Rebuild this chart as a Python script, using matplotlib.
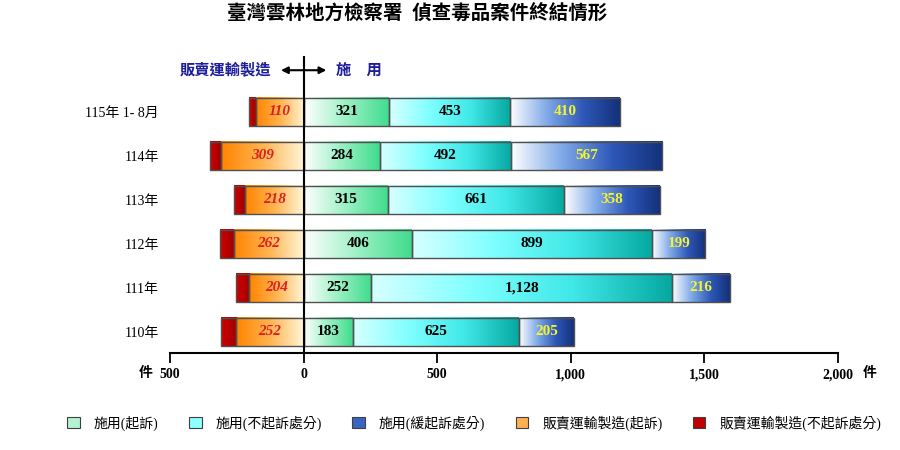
import matplotlib
matplotlib.use('Agg')
import matplotlib.pyplot as plt
import numpy as np
from matplotlib.colors import LinearSegmentedColormap
from matplotlib.patches import Patch

plt.rcParams['font.family'] = ['Liberation Serif', 'Noto Sans CJK TC', 'DejaVu Sans']

# data, top row first
years = ['115年 1- 8月', '114年', '113年', '112年', '111年', '110年']
use_prosecuted = [321, 284, 315, 406, 252, 183]
use_not_prosecuted = [453, 492, 661, 899, 1128, 625]
use_deferred = [410, 567, 358, 199, 216, 205]
# bar length of 115 as drawn (~180) differs from its printed label (110)
sell_prosecuted = [180, 309, 218, 262, 204, 252]
sell_labels = ['110', '309', '218', '262', '204', '252']
sell_not_prosecuted = [24, 40, 41, 50, 50, 59]

legend_names = ['施用(起訴)', '施用(不起訴處分)', '施用(緩起訴處分)',
                '販賣運輸製造(起訴)', '販賣運輸製造(不起訴處分)']

cmaps = [
    LinearSegmentedColormap.from_list('g', ['#ffffff', '#9af0c4', '#3fdc8c']),
    LinearSegmentedColormap.from_list('c', ['#d8ffff', '#80ffff', '#40e8e8', '#05a8a0']),
    LinearSegmentedColormap.from_list('b', ['#ffffff', '#80aae8', '#2e58b8', '#14307a']),
    LinearSegmentedColormap.from_list('o', ['#ff8400', '#ffb450', '#fff6d8']),
    LinearSegmentedColormap.from_list('r', ['#d00000', '#a00000']),
]
legend_colors = ['#b4f2d2', '#90ffff', '#3a64c0', '#ffb050', '#c00000']

grad = np.linspace(0, 1, 256).reshape(1, -1)


def gradient_bars(ax, bars, cmap):
    for p in bars.patches:
        x0, y0 = p.get_x(), p.get_y()
        w, h = p.get_width(), p.get_height()
        l, r = min(x0, x0 + w), max(x0, x0 + w)
        ax.imshow(grad, cmap=cmap, extent=(l, r, y0, y0 + h),
                  aspect='auto', zorder=1, interpolation='bicubic')


fig = plt.figure(figsize=(9, 4.5), dpi=100)
ax = fig.add_axes([0.189, 0.216, 0.742, 0.584])

y = np.arange(len(years))[::-1]
h = 0.64
up = np.array(use_prosecuted)
unp = np.array(use_not_prosecuted)
ud = np.array(use_deferred)
sp = -np.array(sell_prosecuted)
snp = -np.array(sell_not_prosecuted)

kw = dict(height=h, facecolor='none', edgecolor='#505050', linewidth=1.0, zorder=2)
b1 = ax.barh(y, up, **kw)
b2 = ax.barh(y, unp, left=up, **kw)
b3 = ax.barh(y, ud, left=up + unp, **kw)
b4 = ax.barh(y, sp, **kw)
b5 = ax.barh(y, snp, left=sp, **kw)
for b, cm in zip([b1, b2, b3, b4, b5], cmaps):
    gradient_bars(ax, b, cm)

for i in range(len(years)):
    ax.text(up[i] / 2, y[i], f'{up[i]:,}', ha='center', va='center',
            fontsize=11, fontweight='bold', color='black', zorder=3)
    ax.text(up[i] + unp[i] / 2, y[i], f'{unp[i]:,}', ha='center', va='center',
            fontsize=11, fontweight='bold', color='black', zorder=3)
    ax.text(up[i] + unp[i] + ud[i] / 2, y[i], f'{ud[i]:,}', ha='center', va='center',
            fontsize=11, fontweight='bold', color='#f4f430', zorder=3)
    ax.text(sp[i] / 2, y[i], sell_labels[i], ha='center', va='center',
            fontsize=11, fontweight='bold', fontstyle='italic', color='#d82020', zorder=3)

ax.set_xlim(-500, 2000)
ax.set_ylim(-0.48, 5.5)
ax.set_yticks(y)
ax.set_yticklabels(years, fontsize=10)
ax.tick_params(axis='y', length=0, pad=8)
ax.set_xticks([-500, 0, 500, 1000, 1500, 2000])
ax.set_xticklabels(['500', '0', '500', '1,000', '1,500', '2,000'],
                   fontsize=10, fontweight='bold')
ax.tick_params(axis='x', direction='out', length=7, width=1.3, pad=4)
for s in ['top', 'right', 'left']:
    ax.spines[s].set_visible(False)
ax.spines['bottom'].set_linewidth(1.5)

ax.text(-590, -0.94, '件', ha='center', va='center', fontsize=10, fontweight='bold')
ax.text(2120, -0.94, '件', ha='center', va='center', fontsize=10, fontweight='bold')

# zero line with the crossing arrow above it
ax.axvline(0, ymin=0, ymax=1.125, color='black', linewidth=1.5, clip_on=False, zorder=4)
ax.annotate('', xy=(-85, 5.95), xytext=(85, 5.95),
            arrowprops=dict(arrowstyle='<|-|>', color='black', lw=1.5,
                            mutation_scale=10, shrinkA=0, shrinkB=0),
            annotation_clip=False)
ax.text(-120, 5.95, '販賣運輸製造', ha='right', va='center', fontsize=11,
        fontweight='bold', color='#1c1c9c')
ax.text(120, 5.95, '施\u3000用', ha='left', va='center', fontsize=11,
        fontweight='bold', color='#1c1c9c')

fig.text(0.463, 0.968, '臺灣雲林地方檢察署  偵查毒品案件終結情形', ha='center', va='center',
         fontsize=14, fontweight='bold')

handles = [Patch(facecolor=c, edgecolor='#404040', linewidth=0.8) for c in legend_colors]
fig.legend(handles, legend_names, loc='center', bbox_to_anchor=(0.527, 0.06), ncol=5,
           frameon=False, fontsize=10, handlelength=0.9, handleheight=0.9,
           columnspacing=2.2, handletextpad=1.0)

fig.savefig('out.png', dpi=100)
